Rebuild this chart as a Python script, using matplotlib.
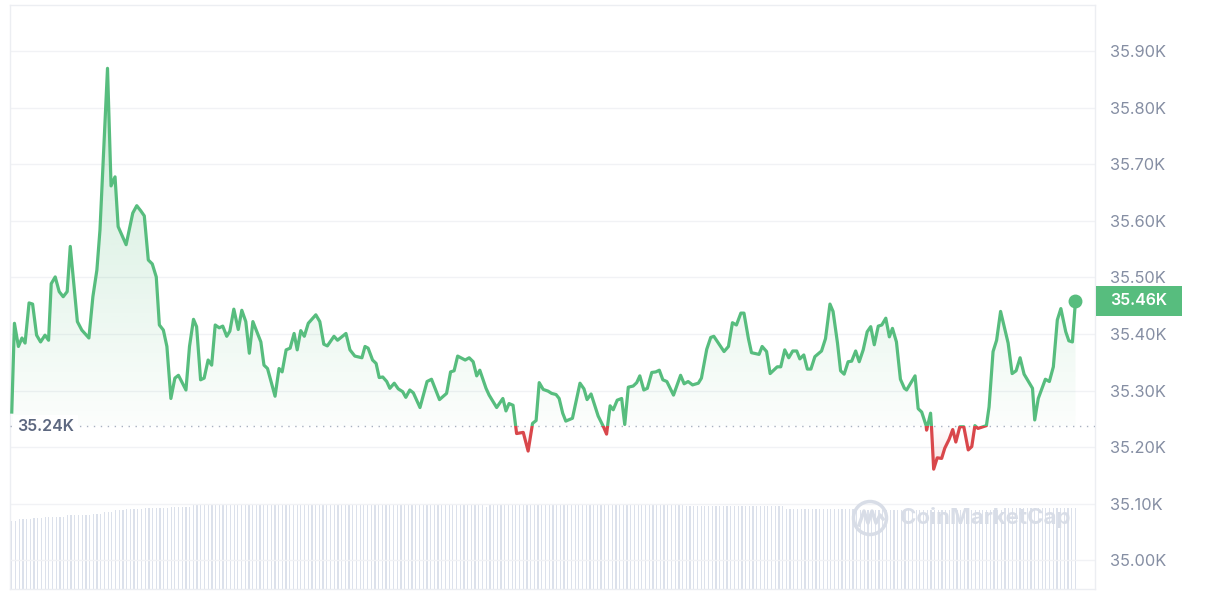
import numpy as np
import matplotlib
matplotlib.use('Agg')
import matplotlib.pyplot as plt
from matplotlib.patches import Rectangle, Circle
from matplotlib.lines import Line2D
from matplotlib.ticker import FuncFormatter
from matplotlib.transforms import blended_transform_factory
from matplotlib.colors import to_rgb

plt.rcParams['font.family'] = ['Inter', 'DejaVu Sans']

# price over the last 24h (hours since window start, USD)
hours = [0.00, 0.06, 0.15, 0.23, 0.30, 0.39, 0.47, 0.56, 0.65, 0.75,
         0.83, 0.89, 0.98, 1.07, 1.16, 1.25, 1.32, 1.48, 1.58, 1.74,
         1.83, 1.92, 1.99, 2.16, 2.24, 2.33, 2.40, 2.58, 2.73, 2.82,
         2.91, 2.99, 3.08, 3.17, 3.26, 3.33, 3.42, 3.50, 3.59, 3.68,
         3.76, 3.93, 4.01, 4.10, 4.17, 4.26, 4.34, 4.43, 4.51, 4.59,
         4.68, 4.76, 4.85, 4.92, 5.01, 5.11, 5.19, 5.28, 5.36, 5.44,
         5.62, 5.69, 5.77, 5.94, 6.03, 6.10, 6.19, 6.28, 6.37, 6.44,
         6.52, 6.60, 6.69, 6.86, 6.95, 7.04, 7.12, 7.27, 7.35, 7.54,
         7.63, 7.74, 7.90, 7.97, 8.04, 8.14, 8.22, 8.29, 8.37, 8.46,
         8.53, 8.63, 8.72, 8.82, 8.89, 8.98, 9.06, 9.21, 9.37, 9.47,
         9.65, 9.81, 9.90, 9.98, 10.06, 10.23, 10.32, 10.41, 10.49, 10.56,
         10.70, 10.77, 10.94, 11.08, 11.15, 11.22, 11.31, 11.39, 11.54, 11.65,
         11.75, 11.83, 11.90, 11.99, 12.10, 12.18, 12.28, 12.35, 12.43, 12.50,
         12.65, 12.82, 12.91, 12.98, 13.07, 13.23, 13.35, 13.42, 13.50, 13.57,
         13.66, 13.76, 13.83, 13.91, 14.02, 14.10, 14.17, 14.26, 14.34, 14.44,
         14.53, 14.61, 14.69, 14.78, 14.93, 15.09, 15.17, 15.26, 15.36, 15.49,
         15.56, 15.68, 15.77, 15.84, 16.07, 16.17, 16.26, 16.35, 16.45, 16.52,
         16.62, 16.69, 16.86, 16.93, 17.03, 17.11, 17.27, 17.35, 17.44, 17.53,
         17.62, 17.71, 17.78, 17.87, 17.95, 18.03, 18.12, 18.27, 18.36, 18.46,
         18.53, 18.63, 18.70, 18.78, 18.87, 18.95, 19.04, 19.12, 19.21, 19.30,
         19.38, 19.46, 19.55, 19.63, 19.72, 19.80, 19.87, 19.96, 20.05, 20.14,
         20.19, 20.38, 20.45, 20.53, 20.63, 20.64, 20.73, 20.75, 20.80, 20.88,
         20.98, 21.05, 21.15, 21.23, 21.30, 21.39, 21.48, 21.58, 21.66, 21.73,
         21.80, 21.99, 22.05, 22.14, 22.22, 22.31, 22.41, 22.48, 22.57, 22.66,
         22.75, 22.84, 22.96, 23.03, 23.08, 23.16, 23.23, 23.32, 23.41, 23.50,
         23.59, 23.67, 23.78, 23.85, 23.93, 24.00]
price = [35262, 35419, 35378, 35393, 35384, 35455, 35453, 35398, 35386, 35398,
         35389, 35489, 35501, 35475, 35466, 35475, 35555, 35422, 35407, 35393,
         35466, 35513, 35584, 35870, 35662, 35678, 35590, 35558, 35614, 35627,
         35618, 35609, 35531, 35524, 35501, 35416, 35407, 35378, 35286, 35322,
         35327, 35301, 35378, 35426, 35413, 35319, 35322, 35354, 35345, 35416,
         35411, 35414, 35396, 35405, 35444, 35408, 35442, 35422, 35366, 35422,
         35386, 35345, 35339, 35290, 35339, 35333, 35372, 35375, 35401, 35372,
         35406, 35396, 35419, 35434, 35422, 35382, 35379, 35396, 35389, 35401,
         35372, 35361, 35358, 35378, 35375, 35354, 35348, 35323, 35324, 35316,
         35304, 35313, 35303, 35298, 35288, 35301, 35296, 35270, 35316, 35320,
         35284, 35295, 35333, 35335, 35361, 35354, 35358, 35351, 35326, 35336,
         35304, 35292, 35270, 35286, 35264, 35277, 35274, 35224, 35226, 35193,
         35242, 35247, 35314, 35302, 35299, 35295, 35293, 35286, 35260, 35246,
         35251, 35313, 35303, 35284, 35294, 35255, 35236, 35223, 35273, 35266,
         35283, 35286, 35240, 35306, 35308, 35314, 35326, 35301, 35304, 35332,
         35333, 35336, 35319, 35316, 35292, 35327, 35312, 35316, 35310, 35313,
         35322, 35373, 35394, 35396, 35369, 35378, 35420, 35416, 35437, 35437,
         35392, 35367, 35364, 35378, 35369, 35330, 35342, 35342, 35372, 35358,
         35370, 35370, 35356, 35363, 35338, 35338, 35360, 35370, 35392, 35453,
         35440, 35384, 35335, 35329, 35351, 35352, 35370, 35351, 35372, 35404,
         35413, 35381, 35414, 35416, 35428, 35395, 35410, 35386, 35320, 35304,
         35301, 35326, 35268, 35262, 35238, 35230, 35260, 35237, 35161, 35181,
         35180, 35198, 35214, 35231, 35209, 35236, 35236, 35195, 35201, 35238,
         35233, 35238, 35271, 35369, 35389, 35440, 35407, 35384, 35330, 35335,
         35358, 35329, 35313, 35304, 35248, 35286, 35301, 35320, 35316, 35342,
         35425, 35445, 35404, 35388, 35386, 35459]
open_price = 35237

# 5-minute volume bars, run-length encoded (billion USD, number of bars)
vol_levels = [13.6, 14.0, 14.3, 14.5, 14.8, 15.1, 15.5, 15.8, 16.0, 16.3, 16.5,
              16.8, 17.1, 16.8, 16.5, 16.8, 17.0, 16.6, 16.0, 15.8, 16.2]
vol_counts = [2, 4, 3, 6, 7, 3, 3, 3, 5, 7, 6,
              10, 16, 53, 1, 42, 11, 27, 19, 40, 20]

y_ticks = [35000, 35100, 35200, 35300, 35400, 35500, 35600, 35700, 35800, 35900]

GREEN = '#57bd7e'
RED = '#d9474b'
GRID = '#f1f2f5'
TICK = '#858ea3'

volume = np.repeat(vol_levels, vol_counts)
bar_hours = np.arange(len(volume)) * 24 / (len(volume) - 1)
hours = np.array(hours)
price = np.array(price)
xlim = (-0.04, 24.44)
ylim = (34949, 35982)

fig = plt.figure(figsize=(12.08, 6.08), dpi=100)
rect = [10 / 1208, 19 / 608, 1085 / 1208, 584 / 608]

# volume underneath
ax_vol = fig.add_axes(rect)
ax_vol.bar(bar_hours, volume, width=0.028, color='#dce1eb', linewidth=0)
ax_vol.set_xlim(*xlim)
ax_vol.set_ylim(0, 116.8)
ax_vol.axis('off')

ax = fig.add_axes(rect)
ax.patch.set_visible(False)

# gradient fills above / below the open price
poly = ax.fill_between(hours, price, open_price, facecolor='none', edgecolor='none')
clip = poly.get_paths()[0]

grad = np.zeros((256, 1, 4))
grad[:, 0, :3] = to_rgb(GREEN)
grad[:, 0, 3] = np.linspace(0.02, 0.32, 256)
im = ax.imshow(grad, extent=[hours[0], hours[-1], open_price, 35900], origin='lower',
               aspect='auto', interpolation='bilinear', zorder=2)
im.set_clip_path(clip, ax.transData)

grad_r = np.zeros((256, 1, 4))
grad_r[:, 0, :3] = to_rgb(RED)
grad_r[:, 0, 3] = np.linspace(0.2, 0.0, 256)
im_r = ax.imshow(grad_r, extent=[hours[0], hours[-1], 35150, open_price], origin='lower',
                 aspect='auto', interpolation='bilinear', zorder=2)
im_r.set_clip_path(clip, ax.transData)

# price line, green above the open, red below
up, = ax.plot(hours, price, color=GREEN, lw=2.3, solid_joinstyle='round', zorder=4)
up.set_clip_path(Rectangle((-1, open_price), 30, 2000, transform=ax.transData))
dn, = ax.plot(hours, price, color=RED, lw=2.3, solid_joinstyle='round', zorder=4)
dn.set_clip_path(Rectangle((-1, open_price - 2000), 30, 2000, transform=ax.transData))
ax.plot(hours[-1], price[-1], 'o', color=GREEN, ms=9, zorder=5, clip_on=False)

ax.axhline(open_price, color='#a9b1c1', lw=1, ls=(0, (1, 4)), zorder=3)

trans = blended_transform_factory(ax.transAxes, ax.transData)
ax.text(0.0065, open_price, f"{open_price / 1000:.2f}K", transform=trans,
        ha='left', va='center', fontsize=11.5, fontweight='semibold', color='#5d6880',
        bbox=dict(facecolor='white', edgecolor='none', pad=3), zorder=5)

ax.add_patch(Rectangle((1.001, price[-1] - 26.5), 0.0793, 53, transform=trans,
                       facecolor=GREEN, edgecolor='none', clip_on=False, zorder=6))
ax.text(1.001 + 0.0793 / 2, price[-1], f"{price[-1] / 1000:.2f}K", transform=trans,
        ha='center', va='center', color='white', fontsize=11.5, fontweight='semibold',
        zorder=7, clip_on=False)

ax.set_xlim(*xlim)
ax.set_ylim(*ylim)
ax.set_xticks([])
ax.set_yticks(y_ticks)
ax.yaxis.tick_right()
ax.yaxis.set_major_formatter(FuncFormatter(lambda v, _: f"{v / 1000:.2f}K"))
ax.tick_params(axis='y', length=0, pad=11, labelsize=11.8, labelcolor=TICK)
ax.grid(axis='y', color=GRID, lw=1)
ax.set_axisbelow(True)
for s in ax.spines.values():
    s.set_color('#eceef2')
    s.set_linewidth(1)

# watermark
wm = '#d8dde7'
fig.add_artist(Circle((8.70, 0.90), 0.165, transform=fig.dpi_scale_trans,
                      facecolor='none', edgecolor=wm, lw=2.5, zorder=10))
fig.add_artist(Line2D([8.59, 8.64, 8.68, 8.72, 8.76, 8.80, 8.83],
                      [0.83, 0.97, 0.85, 0.97, 0.85, 0.93, 0.89],
                      transform=fig.dpi_scale_trans, color=wm, lw=2.5, zorder=10))
fig.text(9.00 / 12.08, 0.90 / 6.08, 'CoinMarketCap', ha='left', va='center',
         fontsize=16, fontweight='bold', color=wm, zorder=10)

fig.savefig('out.png', dpi=100)
